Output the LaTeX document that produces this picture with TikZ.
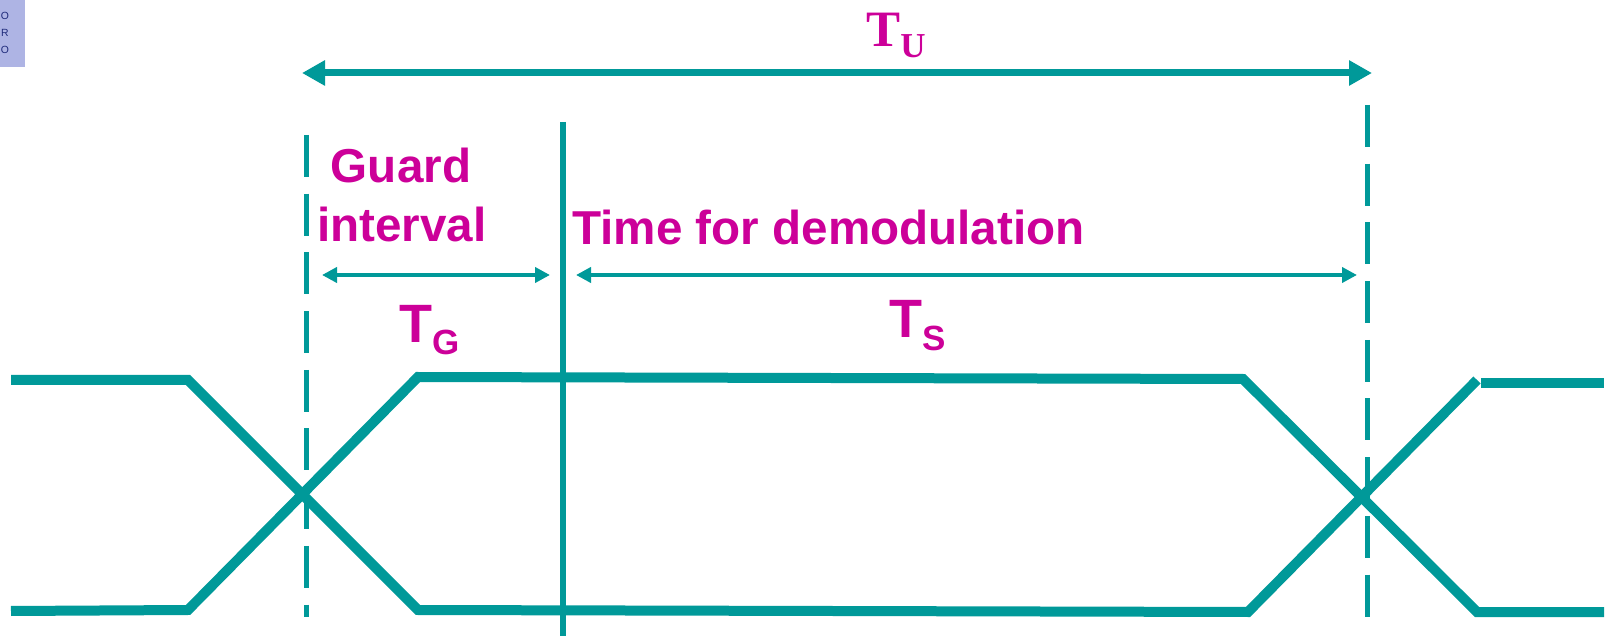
\documentclass[tikz,border=0pt]{standalone}
\usepackage{fontspec}
\setmainfont{Liberation Sans}
\newfontfamily\timesfont{Liberation Serif}
\usetikzlibrary{arrows.meta}
\definecolor{ofdmteal}{HTML}{009999}
\definecolor{ofdmpink}{HTML}{CC0099}
\definecolor{logobg}{HTML}{AEB4E4}
\definecolor{logotxt}{HTML}{1F2A7A}
\newcommand{\labsub}[2]{\raisebox{#1}{\fontsize{17.5}{17.5}\selectfont #2}}

\begin{document}
\begin{tikzpicture}[
  x=0.5pt, y=-0.5pt,
  wave/.style={draw=ofdmteal, line width=5pt},
  bigarr/.style={{Triangle[length=11.5pt,width=12pt]}-{Triangle[length=11.5pt,width=12pt]}, draw=ofdmteal, line width=3.5pt},
  smallarr/.style={{Triangle[length=7.5pt,width=7.5pt]}-{Triangle[length=7.5pt,width=7.5pt]}, draw=ofdmteal, line width=2pt},
  guardline/.style={draw=ofdmteal, line width=2.5pt, dash pattern=on 21pt off 8.35pt},
  lab/.style={text=ofdmpink, font=\fontsize{23.8}{23.8}\selectfont\bfseries, inner sep=0pt, anchor=base west},
  bigT/.style={text=ofdmpink, font=\fontsize{27}{27}\selectfont\bfseries, inner sep=0pt, anchor=base west}
]
\useasboundingbox (0,0) rectangle (1608,636);

\node[fill=logobg, minimum width=12.5pt, minimum height=33.5pt, inner sep=0pt, anchor=north west] (logo) at (0,0) {};
\node[font=\fontsize{5.2}{8.3}\selectfont, text=logotxt, align=center, inner sep=0pt] (logotext) at (5,33) {O\\R\\O};

\coordinate (gTop) at (306,135);
\coordinate (gBot) at (306,617);
\coordinate (sTop) at (1367,105);
\coordinate (sBot) at (1367,617);
\coordinate (dTop) at (563,122);
\coordinate (dBot) at (563,636);

\draw[guardline] (gTop) -- (gBot);
\draw[guardline] (sTop) -- (sBot);
\draw[draw=ofdmteal, line width=3pt] (dTop) -- (dBot);

\coordinate (tuL) at (302,73);
\coordinate (tuR) at (1372,73);
\coordinate (tgL) at (322,275);
\coordinate (tgR) at (550,275);
\coordinate (tsL) at (576,275);
\coordinate (tsR) at (1357,275);
\draw[bigarr] (tuL) -- (tuR);
\draw[smallarr] (tgL) -- (tgR);
\draw[smallarr] (tsL) -- (tsR);

\draw[wave] (11,380) -- (188,380) -- (418,610) -- (1248,612) -- (1477,380);
\draw[wave] (1481,383) -- (1604,383);
\draw[wave] (11,611) -- (188,610) -- (418,377) -- (1243,379) -- (1477,612) -- (1604,612);

\node[lab, anchor=base] (guard) at (401,183) {Guard};
\node[lab, anchor=base] (intv) at (402,242) {interval};
\node[lab] (tdemod) at (572,245) {Time for demodulation};
\node[bigT] (tg) at (399,343) {T\labsub{-6pt}{G}};
\node[bigT] (ts) at (889,338) {T\labsub{-6.5pt}{S}};
\node[bigT, font=\timesfont\fontsize{25.5}{25.5}\selectfont\bfseries] (tu) at (866,47) {T\labsub{-5.5pt}{U}};
\end{tikzpicture}
\end{document}
